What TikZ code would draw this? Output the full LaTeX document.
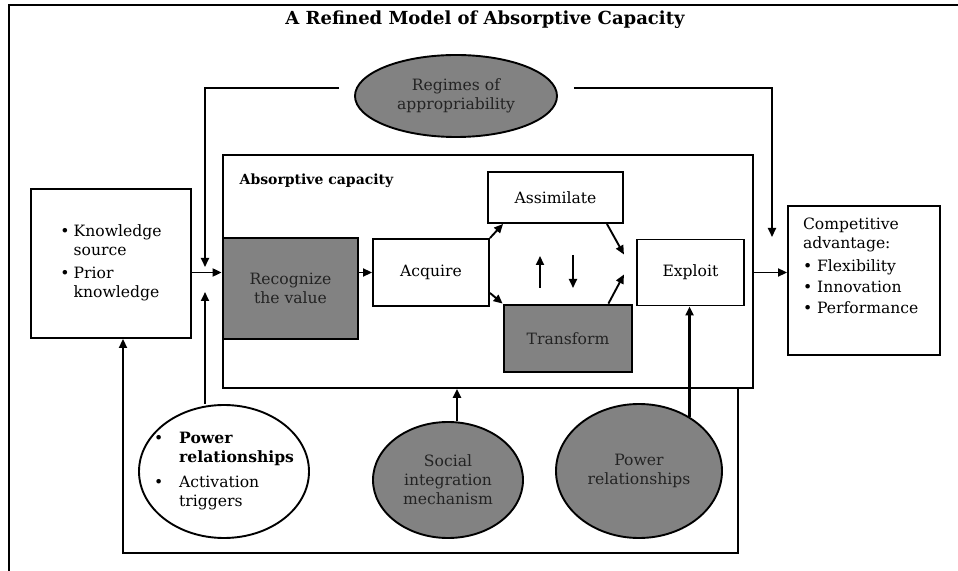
\documentclass[tikz,border=0pt]{standalone}
\usepackage{fontspec}
\setmainfont{DejaVu Serif}
\usetikzlibrary{positioning,shapes.geometric,arrows.meta}
\definecolor{mygray}{RGB}{130,130,130}
\definecolor{mydark}{RGB}{35,35,35}

\begin{document}
\begin{tikzpicture}[x=0.5pt,y=-0.5pt,line width=0.95pt,>={Triangle[length=4.5pt,width=4pt]},
  font=\fontsize{7.8}{9.5}\selectfont,
  sbox/.style={draw,rectangle,inner sep=0pt,align=center},
  gbox/.style={sbox,fill=mygray,line width=1.4pt,text=mydark},
  soval/.style={draw,ellipse,inner sep=0pt,align=center},
  goval/.style={soval,fill=mygray,text=mydark}]

 \useasboundingbox (0,0) rectangle (958,571);
 \draw[line width=1.1pt] (9,571) -- (9,5) -- (958,5);

 \node[font=\bfseries\fontsize{9}{11}\selectfont] (title) at (485,20) {A Refined Model of Absorptive Capacity};

 \node[sbox,minimum width=265pt,minimum height=116.5pt,
   label={[anchor=north west,font=\bfseries\fontsize{7}{8}\selectfont,xshift=5pt,yshift=-6pt]north west:Absorptive capacity}] (cap) at (488,271.5) {};

 \node[sbox,minimum width=80pt,minimum height=74.5pt] (know) at (111,263.5)
   {\begin{tabular}{@{}l@{\hspace{2pt}}l@{}}\textbullet & Knowledge\\ & source\\[2pt] \textbullet & Prior\\ & knowledge\end{tabular}};

 \node[gbox,minimum width=67.5pt,minimum height=50.5pt] (recog) at (290.5,288.5) {Recognize\\the value};
 \node[sbox,minimum width=58pt,minimum height=33.5pt] (acq) at (431,272.5) {Acquire};
 \node[sbox,minimum width=67.5pt,minimum height=25.5pt] (assim) at (555.5,197.5) {Assimilate};
 \node[gbox,minimum width=64pt,minimum height=33.5pt] (trans) at (568,338.5) {Transform};
 \node[sbox,minimum width=53.5pt,minimum height=33pt,right=73pt of acq] (exp) {Exploit};

 \node[sbox,minimum width=76pt,minimum height=74.5pt] (comp) at (864,280.5) {};
 \node[anchor=north west,inner sep=0pt] (comptxt) at ([shift={(7.5pt,-5pt)}]comp.north west)
   {\begin{tabular}{@{}l@{}}Competitive\\advantage:\\[2pt] \textbullet\ Flexibility\\[1pt] \textbullet\ Innovation\\[1pt] \textbullet\ Performance\end{tabular}};

 \node[goval,minimum width=101pt,minimum height=41pt] (reg) at (456,96) {Regimes of\\appropriability};
 \node[soval,minimum width=85pt,minimum height=66.5pt,
   label={center:\begin{tabular}{@{}l@{\hspace{8pt}}l@{}}\textbullet & \textbf{Power}\\ & \textbf{relationships}\\[3pt] \textbullet & Activation\\ & triggers\end{tabular}}] (pw) at (224,471.5) {};
 \node[goval,minimum width=75pt,minimum height=58pt] (soc) at (448,480) {Social\\integration\\mechanism};
 \node[goval,minimum width=83pt,minimum height=67pt] (pr) at (639,471) {Power\\relationships};

 \coordinate (jin) at (205,272);
 \coordinate (jout) at (772,272);
 \coordinate (lb) at (738,553);
 \coordinate (up1) at (540,288);
 \coordinate (up2) at (540,256);
 \coordinate (dn1) at (573,255);
 \coordinate (dn2) at (573,288);
 \coordinate (socin) at ([xshift=4.5pt]soc.north);

 % main flow
 \draw[->] (know.east |- acq.west) -- (recog.west |- acq.west);
 \draw[->] (recog.east |- acq.west) -- (acq.west);
 \draw[->] (cap.east |- exp.east) -- (comp.west |- exp.east);

 % inside absorptive capacity
 \draw[->] (acq.north east) -- ([xshift=8pt]assim.south west);
 \draw[->] ([yshift=7pt]acq.south east) -- (trans.north west);
 \draw[->] ([xshift=-8.5pt]assim.south east) -- ([xshift=-6pt,yshift=9pt]exp.west);
 \draw[->] ([xshift=-12.5pt]trans.north east) -- ([xshift=-6pt,yshift=-1pt]exp.west);
 \draw[->] (up1) -- (up2);
 \draw[->] (dn1) -- (dn2);

 % regimes of appropriability
 \draw[->] ([xshift=-7.5pt,yshift=4pt]reg.west) -| ([yshift=2.5pt]jin);
 \draw[->] ([xshift=8pt,yshift=4pt]reg.east) -| ([yshift=17.5pt]jout);

 % moderators below
 \draw[->,line width=1.1pt] (jin |- pw.north) -- ([yshift=-10pt]jin);
 \draw[->,line width=1.1pt] (socin) -- (socin |- cap.south);
 \draw[->,line width=1.1pt] (pr.47) -- (pr.47 |- exp.south);

 % feedback
 \draw[->] (cap.south -| lb) -- (lb) -| ([xshift=6pt]know.south);

\end{tikzpicture}
\end{document}
